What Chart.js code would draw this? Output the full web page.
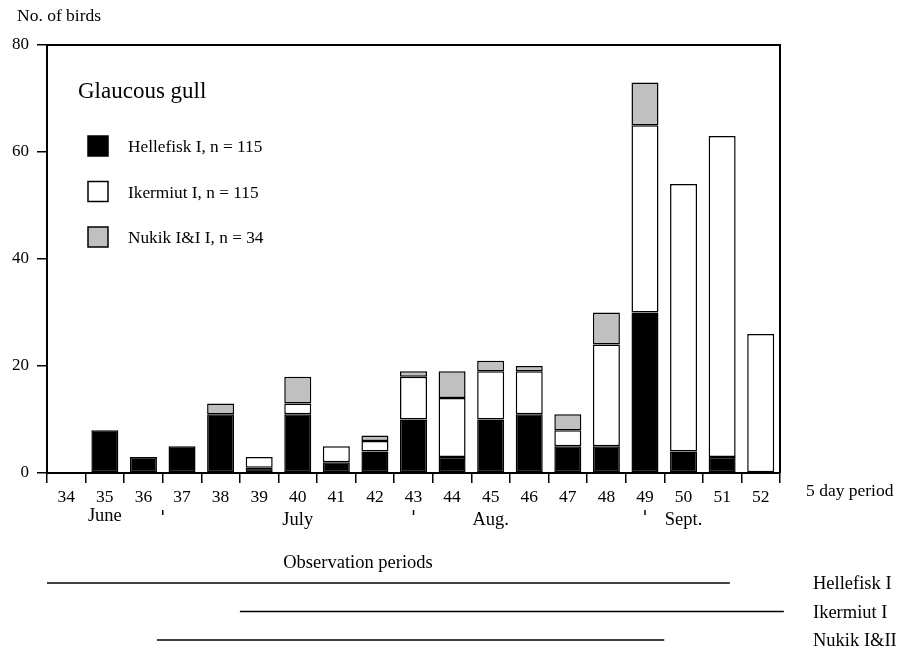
<!DOCTYPE html>
<html>
<head>
<meta charset="utf-8">
<script src="https://cdn.jsdelivr.net/npm/chart.js@4"></script>
<style>
  body { margin: 0; background: #fff; }
  canvas { display: block; }
</style>
</head>
<body>
<canvas id="gullChart" width="908" height="646"></canvas>
<script>
// 5 day periods 34..52
const periods = ['34', '35', '36', '37', '38', '39', '40', '41', '42', '43', '44', '45', '46', '47', '48', '49', '50', '51', '52'];
const hellefisk = [null, 8, 3, 5, 11, 1, 11, 2, 4, 10, 3, 10, 11, 5, 5, 30, 4, 3, null];
const ikermiut = [null, null, null, null, null, 2, 2, 3, 2, 8, 11, 9, 8, 3, 19, 35, 50, 60, 26];
const nukik = [null, null, null, null, 2, null, 5, null, 1, 1, 5, 2, 1, 3, 6, 8, null, null, null];
const yTicks = [0, 20, 40, 60, 80];

// month labels (centred on a period) and month boundary marks (in period units)
const months = [['June', 35], ['July', 40], ['Aug.', 45], ['Sept.', 50]];
const monthMarks = [36.5, 43, 49];

// observation periods, start/end in period units
const obsNames = ['Hellefisk I', 'Ikermiut I', 'Nukik I&II'];
const obsStart = [33.5, 38.5, 36.35];
const obsEnd = [51.2, 52.6, 49.5];

const serif = 'Liberation Serif, Times New Roman, serif';

const decorations = {
    id: 'decorations',
    afterDraw(chart) {
        const ctx = chart.ctx;
        const area = chart.chartArea;
        const x = chart.scales.x;
        const px = p => x.getPixelForValue(p - 34);
        ctx.save();
        ctx.strokeStyle = '#000';
        ctx.fillStyle = '#000';

        // top and right frame
        ctx.lineWidth = 2;
        ctx.beginPath();
        ctx.moveTo(area.left, area.top);
        ctx.lineTo(area.right, area.top);
        ctx.lineTo(area.right, area.bottom);
        ctx.stroke();

        ctx.textBaseline = 'middle';
        ctx.textAlign = 'left';
        ctx.font = '17.5px ' + serif;
        ctx.fillText('No. of birds', 17, 16);

        // legend
        ctx.font = '23px ' + serif;
        ctx.fillText('Glaucous gull', area.left + 31, 92);
        ctx.font = '17.3px ' + serif;
        chart.data.datasets.forEach((ds, i) => {
            const cy = 146 + i * 45.5;
            ctx.fillStyle = ds.backgroundColor;
            ctx.fillRect(area.left + 41, cy - 10, 20, 20);
            ctx.lineWidth = 1.5;
            ctx.strokeRect(area.left + 41, cy - 10, 20, 20);
            ctx.fillStyle = '#000';
            ctx.fillText(ds.label, area.left + 81, cy + 1.5);
        });

        ctx.font = '17.5px ' + serif;
        ctx.fillText('5 day period', 806, 491);

        // months
        ctx.font = '18.5px ' + serif;
        ctx.textAlign = 'center';
        months.forEach(([name, p], i) => {
            ctx.fillText(name, px(p), i === 0 ? 516 : 520);
        });
        ctx.lineWidth = 1.5;
        monthMarks.forEach(p => {
            ctx.beginPath();
            ctx.moveTo(px(p), 510);
            ctx.lineTo(px(p), 515);
            ctx.stroke();
        });

        // observation periods
        ctx.fillText('Observation periods', 358, 563);
        ctx.textAlign = 'left';
        obsNames.forEach((name, i) => {
            const y = 583 + i * 28.5;
            ctx.lineWidth = 1.5;
            ctx.beginPath();
            ctx.moveTo(px(obsStart[i]), y);
            ctx.lineTo(px(obsEnd[i]), y);
            ctx.stroke();
            ctx.fillText(name, 813, y + 1.5);
        });
        ctx.restore();
    }
};

new Chart(document.getElementById('gullChart'), {
    type: 'bar',
    data: {
        labels: periods,
        datasets: [
            {
                label: 'Hellefisk I, n = 115',
                data: hellefisk,
                backgroundColor: '#000000',
                borderColor: '#000000',
                borderWidth: 1.5,
                borderSkipped: false
            },
            {
                label: 'Ikermiut I, n = 115',
                data: ikermiut,
                backgroundColor: '#ffffff',
                borderColor: '#000000',
                borderWidth: 1.5,
                borderSkipped: false
            },
            {
                label: 'Nukik I&I I, n = 34',
                data: nukik,
                backgroundColor: '#c0c0c0',
                borderColor: '#000000',
                borderWidth: 1.5,
                borderSkipped: false
            }
        ]
    },
    options: {
        responsive: false,
        animation: false,
        layout: { padding: { top: 45, right: 128, bottom: 0, left: 0 } },
        datasets: { bar: { categoryPercentage: 1, barPercentage: 0.7 } },
        plugins: { legend: { display: false }, tooltip: { enabled: false } },
        scales: {
            x: {
                stacked: true,
                offset: true,
                grid: { offset: true, drawOnChartArea: false, color: '#000', lineWidth: 1.5, tickLength: 10 },
                border: { color: '#000', width: 2 },
                ticks: { color: '#000', font: { family: serif, size: 17.5 }, padding: 4, maxRotation: 0, autoSkip: false },
                afterFit: s => { s.height = 173; }
            },
            y: {
                stacked: true,
                min: 0,
                max: 80,
                afterBuildTicks: s => { s.ticks = yTicks.map(v => ({ value: v })); },
                grid: { drawOnChartArea: false, color: '#000', lineWidth: 1.5, tickLength: 10 },
                border: { color: '#000', width: 2 },
                ticks: { color: '#000', font: { family: serif, size: 17 }, padding: 8 },
                afterFit: s => { s.width = 47; }
            }
        }
    },
    plugins: [decorations]
});
</script>
</body>
</html>
